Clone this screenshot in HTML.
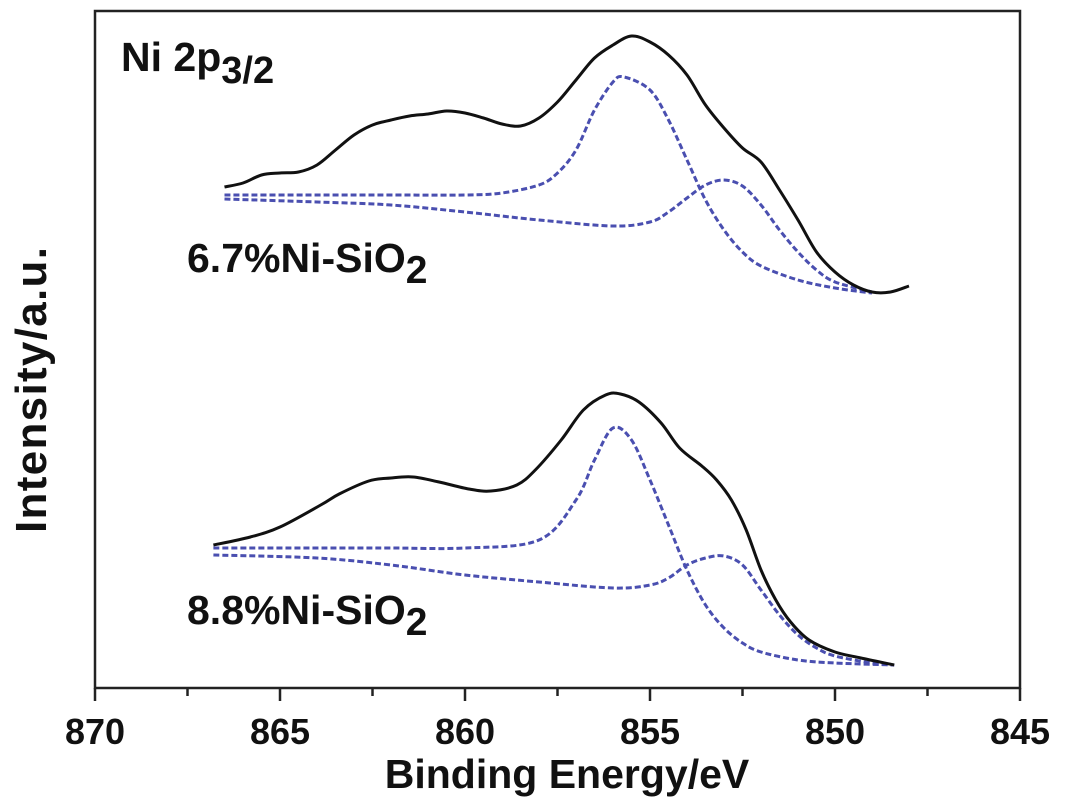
<!DOCTYPE html>
<html><head><meta charset="utf-8"><style>
html,body{margin:0;padding:0;background:#fff;}
svg{display:block;font-family:"Liberation Sans",Arial,sans-serif;font-weight:bold;}
</style></head><body>
<svg id="chart" width="1065" height="810" viewBox="0 0 1065 810">
<rect x="0" y="0" width="1065" height="810" fill="#fff"/>
<rect x="95" y="11" width="925" height="677" fill="none" stroke="#222" stroke-width="2.5"/>
<g id="ticks"></g>
<g id="series"></g>
<text x="121" y="71" font-size="41" fill="#111">Ni 2p<tspan font-size="38" dy="12">3/2</tspan></text>
<text x="187" y="272" font-size="41" fill="#111">6.7%Ni-SiO<tspan font-size="39" dy="11">2</tspan></text>
<text x="187" y="624" font-size="41" fill="#111">8.8%Ni-SiO<tspan font-size="39" dy="11">2</tspan></text>
<text x="567" y="788" font-size="41" text-anchor="middle" fill="#111">Binding Energy/eV</text>
<text transform="translate(46,390) rotate(-90)" font-size="44" text-anchor="middle" textLength="286" fill="#111">Intensity/a.u.</text>
</svg>
<script>
const xTicks = [870, 865, 860, 855, 850, 845];
const minorTicks = [867.5, 862.5, 857.5, 852.5, 847.5];
// intensities in arbitrary units (0 = bottom of frame, 677 = top)
const topEnergy = [866.5,866,865.5,865,864.5,864,863.5,863,862.5,862,861.5,861,860.5,860,859.5,859,858.5,858,857.5,857,856.5,856,855.5,855,854.5,854,853.5,853,852.5,852,851.5,851,850.5,850,849.5,849,848.5,848];
const topTotal = [501,505,513,515,516,523,538,553,563,568,572,574,577,575,570,564,562,570,586,608,630,643,652,646,633,613,583,560,540,526,498,468,436,416,403,396,396,402];
const topComp1Energy = [866.5,864,862,860,859,858,857.5,857,856.5,856,855.7,855,854.5,854,853.5,853,852.5,852,851,850,849];
const topComp1 = [493,493,493,493,495,503,515,538,578,606,611,598,568,528,488,458,436,422,408,400,395];
const topComp2Energy = [866.5,864,862,860,858,856,855,854.5,854,853.5,853,852.5,852,851.5,851,850.5,850,849];
const topComp2 = [489,486,483,476,468,462,466,476,490,503,508,502,483,458,436,418,406,396];
const botEnergy = [866.8,865.8,865,863.9,863.4,862.6,862,861.4,860.7,859.9,859.3,858.6,858.1,857.4,856.8,856.2,855.8,855.3,854.7,854.2,853.6,853.2,852.8,852.4,852,851.6,851.2,850.7,850,849.3,848.4];
const botTotal = [143,151,161,183,194,207,210,211,206,199,197,203,218,248,278,293,294,286,265,240,222,208,188,158,118,88,66,48,36,30,23];
const botComp1Energy = [866.8,864,862,860,858,857,856.5,856,855.5,855,854.5,854,853.5,853,852.5,852,851,850,848.4];
const botComp1 = [140,140,140,140,148,188,228,260,248,208,163,118,83,60,45,36,28,25,23];
const botComp2Energy = [866.8,864,862,860,858,856,855,854.5,854,853.5,853,852.5,852,851.5,851,850.5,850,849,848.4];
const botComp2 = [133,130,123,113,106,100,103,110,123,130,132,123,98,73,53,40,32,25,23];

const X0=95,X1=1020,Y0=688,Y1=11;
function xs(e){return X0+(870-e)/(870-845)*(X1-X0);}
function ys(v){return Y0-v/677*(Y0-Y1);}
const NS='http://www.w3.org/2000/svg';
const tg=document.getElementById('ticks');
const sg=document.getElementById('series');
function path(ex,vs){
  const p=ex.map((e,i)=>[xs(e),ys(vs[i])]);
  let d='M'+p[0][0].toFixed(1)+','+p[0][1].toFixed(1);
  for(let i=0;i<p.length-1;i++){
    const a=p[Math.max(0,i-1)],b=p[i],c=p[i+1],n=p[Math.min(p.length-1,i+2)];
    const c1=[b[0]+(c[0]-a[0])/6,b[1]+(c[1]-a[1])/6],c2=[c[0]-(n[0]-b[0])/6,c[1]-(n[1]-b[1])/6];
    d+=' C'+c1.map(v=>v.toFixed(1))+' '+c2.map(v=>v.toFixed(1))+' '+c.map(v=>v.toFixed(1));
  }
  return d;
}
xTicks.forEach(t=>{
  const l=document.createElementNS(NS,'line');
  l.setAttribute('x1',xs(t));l.setAttribute('x2',xs(t));l.setAttribute('y1',Y0);l.setAttribute('y2',Y0+13);
  l.setAttribute('stroke','#222');l.setAttribute('stroke-width','2.5');
  
  
  tg.appendChild(l);
  const tx=document.createElementNS(NS,'text');
  tx.setAttribute('x',xs(t));tx.setAttribute('y',744);tx.setAttribute('font-size','36');
  tx.setAttribute('text-anchor','middle');tx.setAttribute('fill','#111');tx.textContent=t;
  
  
  tg.appendChild(tx);
});
minorTicks.forEach(t=>{
  const l=document.createElementNS(NS,'line');
  l.setAttribute('x1',xs(t));l.setAttribute('x2',xs(t));l.setAttribute('y1',Y0);l.setAttribute('y2',Y0+8);
  l.setAttribute('stroke','#222');l.setAttribute('stroke-width','2.5');
  
  
  tg.appendChild(l);
});
function add(ex,vs,dashed,name){
  const p=document.createElementNS(NS,'path');
  p.setAttribute('d',path(ex,vs));p.setAttribute('fill','none');
  if(dashed){p.setAttribute('stroke','#4a4fb0');p.setAttribute('stroke-width','3');p.setAttribute('stroke-dasharray','6,3');}
  else{p.setAttribute('stroke','#111');p.setAttribute('stroke-width','3');}
  
  
  sg.appendChild(p);
}
add(topComp1Energy,topComp1,true,'fit-peak-main-6-7');
add(topComp2Energy,topComp2,true,'fit-peak-low-6-7');
add(topEnergy,topTotal,false,'spectrum-6-7');
add(botComp1Energy,botComp1,true,'fit-peak-main-8-8');
add(botComp2Energy,botComp2,true,'fit-peak-low-8-8');
add(botEnergy,botTotal,false,'spectrum-8-8');
</script>
</body></html>
